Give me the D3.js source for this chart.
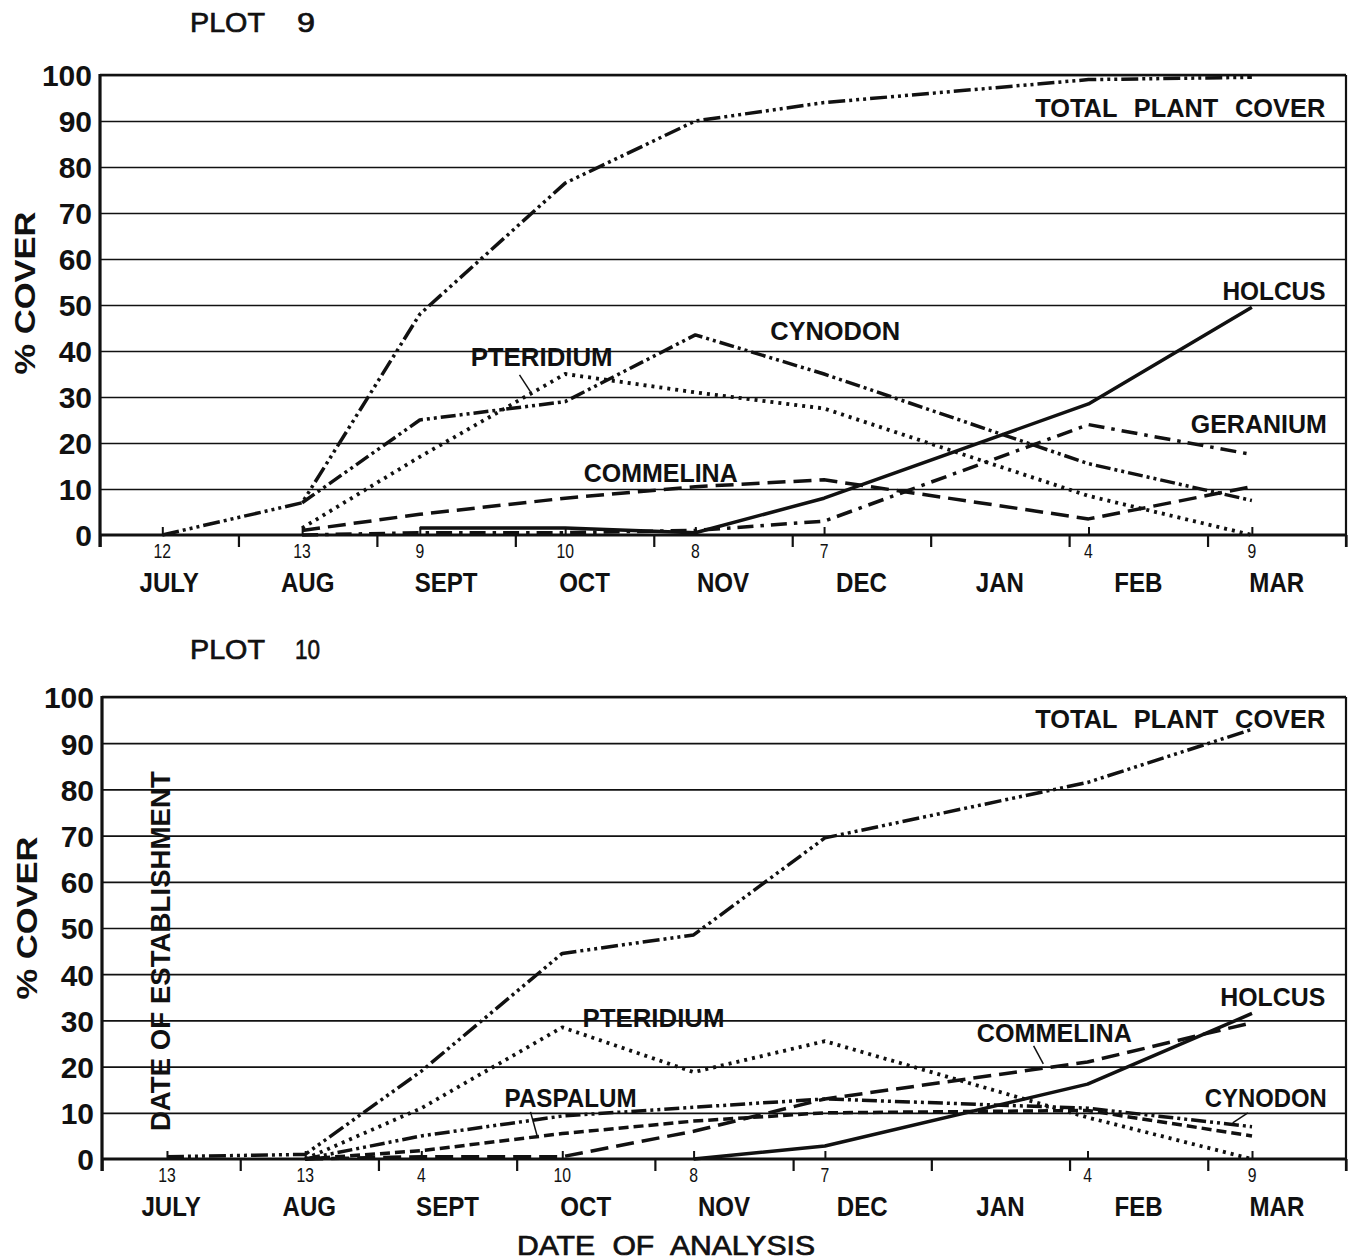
<!DOCTYPE html>
<html>
<head>
<meta charset="utf-8">
<script src="https://cdn.jsdelivr.net/npm/d3@7"></script>
<style>
  body { margin: 0; background: #fff; }
  svg { display: block; }
  text { font-family: "Liberation Sans", Arial, sans-serif; fill: #111; font-weight: bold; }
</style>
</head>
<body>
<svg id="chart" width="1349" height="1260"></svg>
<script>
// ---- data ---------------------------------------------------------------
// months on the time axis (each month drawn with equal width)
const months = ["JULY", "AUG", "SEPT", "OCT", "NOV", "DEC", "JAN", "FEB", "MAR"];
const coverTicks = [0, 10, 20, 30, 40, 50, 60, 70, 80, 90, 100];

// Plot 9: sampling times (months after 1 July) and the day-of-month labels
const plot9Times = [0.45, 1.46, 2.31, 3.36, 4.30, 5.23, 7.14, 8.32];
const plot9Days  = ["12", "13", "9", "10", "8", "7", "4", "9"];
const plot9Total     = [0, 7, 48, 76.5, 90, 94, 99, 99.5];
const plot9Cynodon   = [null, 7, 25, 29, 43.5, 35, 15.5, 7.5];
const plot9Pteridium = [null, 1.5, 17, 35, 31, 27.5, 8.5, 0];
const plot9Commelina = [null, 1, 4.5, 8, 10.5, 12, 3.5, 10.5];
const plot9Holcus    = [null, null, 1.5, 1.5, 0.5, 8, 28.5, 49.5];
const plot9Geranium  = [null, 0, 0.5, 0.5, 1, 3, 24, 17.5];

// Plot 10
const plot10Times = [0.47, 1.47, 2.31, 3.33, 4.28, 5.23, 7.13, 8.32];
const plot10Days  = ["13", "13", "4", "10", "8", "7", "4", "9"];
const plot10Total     = [0.5, 1, 19, 44.5, 48.5, 69.5, 81.5, 93];
const plot10Pteridium = [null, 0, 11, 28.5, 18.8, 25.5, 9, 0];
const plot10Cynodon   = [null, 0, 5, 9.3, 11.2, 13, 11, 7];
const plot10Paspalum  = [null, 0, 1.8, 5.5, 8.2, 10, 10.5, 5];
const plot10Commelina = [null, 0, 0.5, 0.5, 6, 13, 21, 29.5];
const plot10Holcus    = [null, null, null, null, 0, 2.8, 16.2, 31.5];

// ---- line styles per species -------------------------------------------
const dashBySpecies = {
  total:     "17,4,3,4,3,4,3,4",
  cynodon:   "15,4,3,4,3,4",
  geranium:  "16,7,3.5,7",
  pteridium: "3,5",
  commelina: "18,8",
  paspalum:  "10,5",
  holcus:    null
};

// ---- panel layout -------------------------------------------------------
const panels = [
  {
    title: "PLOT", number: "9", titleY: 32, numberX: 297, numberW: 18,
    left: 100, right: 1346, top: 75, bottom: 535, yTitleX: 25, yTitleY: 293,
    times: plot9Times, days: plot9Days,
    series: [
      { key: "total", values: plot9Total },
      { key: "cynodon", values: plot9Cynodon },
      { key: "pteridium", values: plot9Pteridium },
      { key: "commelina", values: plot9Commelina },
      { key: "geranium", values: plot9Geranium },
      { key: "holcus", values: plot9Holcus }
    ],
    // label anchors in data units (t = months, v = % cover)
    labels: [
      { text: "TOTAL PLANT COVER", t: 8.85, v: 90.9, w: 290, anchor: "end" },
      { text: "HOLCUS",    t: 8.48, v: 51.1, w: 103 },
      { text: "CYNODON",   t: 5.31, v: 42.4, w: 130 },
      { text: "PTERIDIUM", t: 3.19, v: 36.7, w: 142 },
      { text: "GERANIUM",  t: 8.37, v: 22.2, w: 136 },
      { text: "COMMELINA", t: 4.05, v: 11.5, w: 154 }
    ],
    pointers: [
      { t1: 3.03, v1: 34.8, t2: 3.11, v2: 31.1 }
    ]
  },
  {
    title: "PLOT", number: "10", titleY: 659, numberX: 295, numberW: 25,
    left: 102, right: 1346, top: 697, bottom: 1159, yTitleX: 27, yTitleY: 918,
    times: plot10Times, days: plot10Days,
    series: [
      { key: "total", values: plot10Total },
      { key: "pteridium", values: plot10Pteridium },
      { key: "cynodon", values: plot10Cynodon },
      { key: "paspalum", values: plot10Paspalum },
      { key: "commelina", values: plot10Commelina },
      { key: "holcus", values: plot10Holcus }
    ],
    labels: [
      { text: "TOTAL PLANT COVER", t: 8.85, v: 93.3, w: 290, anchor: "end" },
      { text: "HOLCUS",    t: 8.47, v: 33.1, w: 105 },
      { text: "PTERIDIUM", t: 3.99, v: 28.6, w: 142 },
      { text: "COMMELINA", t: 6.89, v: 25.3, w: 155 },
      { text: "PASPALUM",  t: 3.39, v: 11.3, w: 132 },
      { text: "CYNODON",   t: 8.42, v: 11.3, w: 122 }
    ],
    pointers: [
      { t1: 6.74, v1: 24.5, t2: 6.81, v2: 20.6 },
      { t1: 3.10, v1: 10.2, t2: 3.15, v2: 4.8 },
      { t1: 8.29, v1: 10.0, t2: 8.18, v2: 7.8 }
    ],
    establishment: { text: "DATE OF ESTABLISHMENT", t: 0.42, v: 45, w: 360 }
  }
];

const ink = "#111";
const svg = d3.select("#chart");

function fit(sel, w) {
  return sel.attr("textLength", w).attr("lengthAdjust", "spacingAndGlyphs");
}

panels.forEach(p => {
  const x = d3.scaleLinear().domain([0, months.length]).range([p.left, p.right]);
  const y = d3.scaleLinear().domain([0, 100]).range([p.bottom, p.top]);
  const g = svg.append("g");

  // title
  fit(g.append("text").attr("x", 190).attr("y", p.titleY)
    .attr("font-size", 28).style("font-weight", "normal").style("stroke", ink).style("stroke-width", 0.7)
    .text(p.title), 75);
  fit(g.append("text").attr("x", p.numberX).attr("y", p.titleY)
    .attr("font-size", 28).style("font-weight", "normal").style("stroke", ink).style("stroke-width", 0.7)
    .text(p.number), p.numberW);

  // horizontal grid lines at every 10 %
  const grid = g.append("g").attr("transform", `translate(${p.left},0)`)
    .call(d3.axisLeft(y).tickValues(coverTicks.filter(v => v > 0))
      .tickSize(-(p.right - p.left)).tickFormat(""));
  grid.select(".domain").remove();
  grid.selectAll(".tick line").attr("stroke", ink).attr("stroke-width", 1.7);

  // cover tick labels
  const yLab = g.append("g").attr("transform", `translate(${p.left},0)`)
    .call(d3.axisLeft(y).tickValues(coverTicks).tickSize(0).tickPadding(8));
  yLab.attr("font-family", null).attr("font-size", null);
  yLab.select(".domain").remove();
  yLab.selectAll("text").attr("font-size", 30).attr("fill", ink).attr("dy", "0.36em");

  // month boundary ticks below the axis
  const mAxis = g.append("g").attr("transform", `translate(0,${p.bottom})`)
    .call(d3.axisBottom(x).tickValues(d3.range(0, months.length + 1)).tickSize(12).tickFormat(""));
  mAxis.select(".domain").remove();
  mAxis.selectAll(".tick line").attr("stroke", ink).attr("stroke-width", 2.2);

  // sampling-date ticks above the axis
  const sAxis = g.append("g").attr("transform", `translate(0,${p.bottom})`)
    .call(d3.axisTop(x).tickValues(p.times).tickSize(8).tickFormat(""));
  sAxis.select(".domain").remove();
  sAxis.selectAll(".tick line").attr("stroke", ink).attr("stroke-width", 2);

  // frame: left axis, baseline, top line, right edge
  g.append("line").attr("x1", p.left).attr("x2", p.left).attr("y1", y(100) - 1).attr("y2", p.bottom + 12)
    .attr("stroke", ink).attr("stroke-width", 3.2);
  g.append("line").attr("x1", p.left).attr("x2", p.right).attr("y1", y(0)).attr("y2", y(0))
    .attr("stroke", ink).attr("stroke-width", 3);
  g.append("line").attr("x1", p.left).attr("x2", p.right).attr("y1", y(100)).attr("y2", y(100))
    .attr("stroke", ink).attr("stroke-width", 2.4);
  g.append("line").attr("x1", p.right).attr("x2", p.right).attr("y1", y(100)).attr("y2", p.bottom + 12)
    .attr("stroke", ink).attr("stroke-width", 2.2);

  // day numbers at sampling dates
  g.selectAll(".day").data(p.times).join("text")
    .attr("class", "day")
    .attr("x", t => x(t)).attr("y", p.bottom + 23)
    .attr("text-anchor", "middle").attr("font-size", 21).style("font-weight", "normal")
    .text((t, i) => p.days[i])
    .each(function () { fit(d3.select(this), this.getComputedTextLength() * 0.75); });

  // month names
  g.selectAll(".month").data(months).join("text")
    .attr("class", "month")
    .attr("x", (m, i) => x(i + 0.5)).attr("y", p.bottom + 57)
    .attr("text-anchor", "middle").attr("font-size", 28)
    .text(m => m)
    .each(function () { fit(d3.select(this), this.getComputedTextLength() * 0.86); });

  // y title
  fit(g.append("text")
    .attr("transform", `translate(${p.yTitleX + 10},${p.yTitleY}) rotate(-90)`)
    .attr("text-anchor", "middle").attr("font-size", 29)
    .text("% COVER"), 163);

  // establishment marker text
  if (p.establishment) {
    const e = p.establishment;
    fit(g.append("text")
      .attr("transform", `translate(${x(e.t) + 10},${y(e.v)}) rotate(-90)`)
      .attr("text-anchor", "middle").attr("font-size", 27)
      .text(e.text), e.w);
  }

  // species lines
  const line = d3.line()
    .defined(d => d.v != null)
    .x(d => x(d.t))
    .y(d => y(d.v));

  g.selectAll(".series").data(p.series).join("path")
    .attr("class", "series")
    .attr("d", s => line(s.values.map((v, i) => ({ t: p.times[i], v }))))
    .attr("fill", "none")
    .attr("stroke", ink)
    .attr("stroke-width", s => s.key === "pteridium" ? 3.8 : 3.5)
    .attr("stroke-linejoin", "round")
    .attr("stroke-dasharray", s => dashBySpecies[s.key]);

  // species labels
  g.selectAll(".lab").data(p.labels).join("text")
    .attr("class", "lab")
    .attr("x", d => x(d.t)).attr("y", d => y(d.v))
    .attr("text-anchor", d => d.anchor || "middle")
    .attr("font-size", 26)
    .attr("word-spacing", d => d.text.includes(" ") ? 10 : 0)
    .text(d => d.text)
    .each(function (d) { fit(d3.select(this), d.w); });

  // leader lines from labels to their curves
  g.selectAll(".ptr").data(p.pointers).join("line")
    .attr("class", "ptr")
    .attr("x1", d => x(d.t1)).attr("y1", d => y(d.v1))
    .attr("x2", d => x(d.t2)).attr("y2", d => y(d.v2))
    .attr("stroke", ink).attr("stroke-width", 1.5);
});

// shared x title
fit(svg.append("text").attr("x", 666).attr("y", 1255).attr("text-anchor", "middle")
  .attr("font-size", 27).style("font-weight", "normal").style("stroke", ink).style("stroke-width", 0.7)
  .attr("word-spacing", 8)
  .text("DATE OF ANALYSIS"), 298);
</script>
</body>
</html>
